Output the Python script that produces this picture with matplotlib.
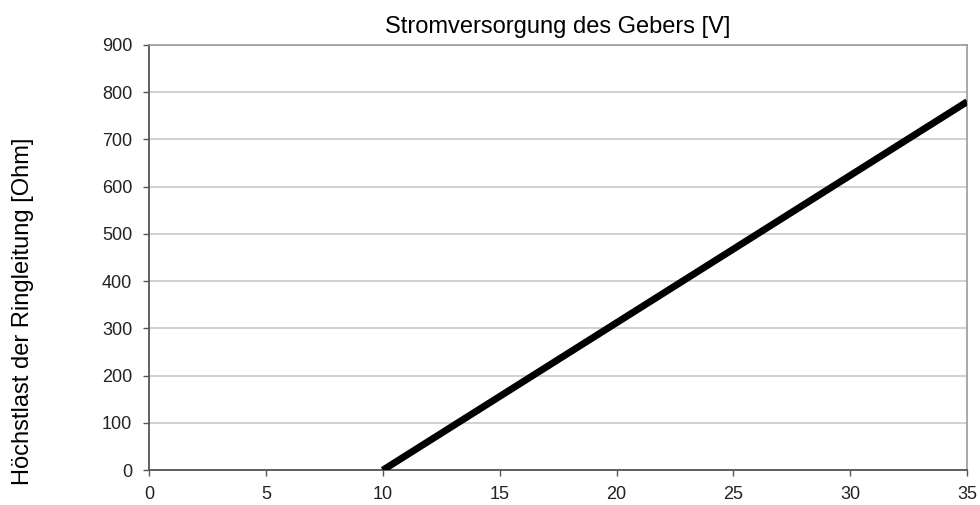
from matplotlib import pyplot as plt

plt.rcParams['font.family'] = ['Liberation Sans', 'DejaVu Sans']

# supply voltage [V] vs. max loop load [Ohm]
volts = [10, 35]
ohms = [0, 780]

x_ticks = [0, 5, 10, 15, 20, 25, 30, 35]
y_ticks = [0, 100, 200, 300, 400, 500, 600, 700, 800, 900]

fig = plt.figure(figsize=(9.8, 5.05), dpi=100)
ax = fig.add_axes([0.152, 0.069, 0.835, 0.842])

ax.plot(volts, ohms, color='black', linewidth=5, solid_capstyle='butt', zorder=3)

ax.set_xlim(0, 35)
ax.set_ylim(0, 900)
ax.set_xticks(x_ticks)
ax.set_yticks(y_ticks)
ax.yaxis.grid(True, color='#c8c8c8', linewidth=1.2)
ax.set_axisbelow(True)

for side in ['left', 'bottom']:
    ax.spines[side].set_color('#555555')
    ax.spines[side].set_linewidth(1.3)
for side in ['top', 'right']:
    ax.spines[side].set_color('#999999')
    ax.spines[side].set_linewidth(1.2)

ax.tick_params(axis='both', direction='out', length=4.5, width=1, color='#555555',
               labelsize=13, labelcolor='#222222')
ax.tick_params(axis='x', pad=7)
ax.tick_params(axis='y', pad=7.5)

ax.set_title('Stromversorgung des Gebers [V]', fontsize=17, pad=8.7)
ax.set_ylabel('Höchstlast der Ringleitung [Ohm]', fontsize=17, va='center')
ax.yaxis.set_label_coords(-0.154, 0.374)

fig.savefig('out.png', dpi=100)
